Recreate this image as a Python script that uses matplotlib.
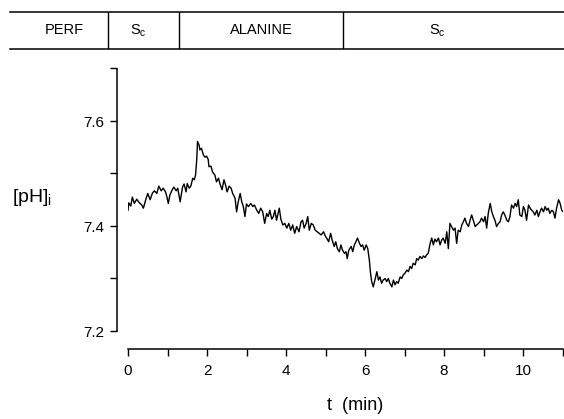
import matplotlib
matplotlib.use("Agg")
import matplotlib.pyplot as plt
from matplotlib.ticker import MultipleLocator

plt.rcParams['font.family'] = ['Liberation Sans', 'DejaVu Sans']
plt.rcParams['mathtext.fontset'] = 'custom'
plt.rcParams['mathtext.rm'] = 'Liberation Sans'
plt.rcParams['mathtext.it'] = 'Liberation Sans'

# time (min) and intracellular pH
t_min = [0.00, 0.02, 0.07, 0.11, 0.16, 0.22, 0.29, 0.35, 0.39, 0.46, 0.50, 0.56,
         0.62, 0.67, 0.73, 0.78, 0.84, 0.89, 0.95, 0.98, 1.02, 1.06, 1.12, 1.16,
         1.22, 1.26, 1.32, 1.38, 1.42, 1.47, 1.50, 1.55, 1.59, 1.64, 1.68, 1.71,
         1.74, 1.76, 1.80, 1.82, 1.86, 1.91, 1.95, 1.99, 2.03, 2.05, 2.10, 2.14,
         2.20, 2.24, 2.29, 2.33, 2.38, 2.43, 2.47, 2.51, 2.56, 2.61, 2.65, 2.71,
         2.75, 2.79, 2.84, 2.88, 2.92, 2.96, 3.00, 3.05, 3.11, 3.16, 3.20, 3.26,
         3.31, 3.36, 3.41, 3.46, 3.51, 3.55, 3.59, 3.64, 3.68, 3.72, 3.76, 3.83,
         3.87, 3.92, 3.97, 4.02, 4.07, 4.12, 4.17, 4.22, 4.27, 4.33, 4.38, 4.42,
         4.46, 4.51, 4.55, 4.59, 4.64, 4.69, 4.74, 4.79, 4.84, 4.89, 4.95, 5.00,
         5.03, 5.08, 5.13, 5.17, 5.22, 5.26, 5.30, 5.35, 5.39, 5.43, 5.48, 5.52,
         5.55, 5.59, 5.65, 5.69, 5.73, 5.77, 5.81, 5.86, 5.90, 5.94, 5.98, 6.03,
         6.07,
         6.11, 6.14, 6.17, 6.21, 6.25, 6.30, 6.34, 6.38, 6.42, 6.46, 6.51, 6.55,
         6.59, 6.63, 6.68, 6.72, 6.76, 6.80, 6.84, 6.89, 6.93, 6.97, 7.01, 7.06,
         7.10, 7.14, 7.18, 7.22, 7.27, 7.31, 7.35, 7.39, 7.44, 7.48, 7.52, 7.56,
         7.60, 7.65, 7.69, 7.73, 7.77, 7.81, 7.86, 7.90, 7.94, 7.98, 8.03, 8.07,
         8.11, 8.15, 8.19, 8.24, 8.28, 8.32, 8.36, 8.41, 8.45, 8.49, 8.53, 8.57,
         8.62, 8.66, 8.70, 8.74, 8.79, 8.83, 8.87, 8.91, 8.95, 9.00, 9.04, 9.08,
         9.12, 9.17, 9.21, 9.25, 9.29, 9.33, 9.38, 9.42, 9.46, 9.50, 9.54, 9.59,
         9.63, 9.67, 9.71, 9.76, 9.80, 9.84, 9.88, 9.92, 9.97, 10.01, 10.05, 10.09,
         10.14, 10.18, 10.22, 10.26, 10.30, 10.35, 10.39, 10.43, 10.47, 10.52,
         10.56, 10.60, 10.64, 10.68, 10.73, 10.77, 10.81, 10.85, 10.90, 10.94,
         10.98, 11.02]
ph_i = [7.430, 7.444, 7.438, 7.455, 7.443, 7.451, 7.444, 7.440, 7.434, 7.453, 7.462, 7.450,
        7.463, 7.467, 7.462, 7.476, 7.467, 7.472, 7.465, 7.457, 7.443, 7.459, 7.469, 7.474,
        7.467, 7.472, 7.446, 7.474, 7.480, 7.465, 7.481, 7.472, 7.476, 7.491, 7.488, 7.497,
        7.526, 7.561, 7.554, 7.545, 7.548, 7.535, 7.531, 7.533, 7.527, 7.513, 7.514, 7.503,
        7.497, 7.484, 7.491, 7.480, 7.469, 7.488, 7.478, 7.465, 7.476, 7.472, 7.462, 7.453,
        7.427, 7.446, 7.462, 7.446, 7.437, 7.418, 7.442, 7.437, 7.443, 7.437, 7.440, 7.430,
        7.424, 7.434, 7.427, 7.405, 7.424, 7.418, 7.430, 7.413, 7.418, 7.430, 7.411, 7.434,
        7.413, 7.402, 7.405, 7.396, 7.405, 7.392, 7.402, 7.386, 7.399, 7.389, 7.408, 7.411,
        7.396, 7.405, 7.418, 7.392, 7.405, 7.402, 7.392, 7.389, 7.386, 7.383, 7.389, 7.380,
        7.377, 7.370, 7.386, 7.373, 7.361, 7.370, 7.357, 7.351, 7.364, 7.354, 7.348, 7.351,
        7.338, 7.354, 7.361, 7.351, 7.364, 7.370, 7.377, 7.367, 7.361, 7.364, 7.354, 7.364,
        7.357,
        7.335, 7.310, 7.294, 7.284, 7.297, 7.313, 7.297, 7.303, 7.291, 7.297, 7.300, 7.294,
        7.300, 7.291, 7.284, 7.297, 7.288, 7.294, 7.291, 7.303, 7.300, 7.307, 7.310, 7.316,
        7.313, 7.323, 7.319, 7.329, 7.326, 7.338, 7.335, 7.342, 7.338, 7.343, 7.340, 7.345,
        7.348, 7.367, 7.377, 7.364, 7.375, 7.370, 7.377, 7.364, 7.373, 7.377, 7.367, 7.389,
        7.357, 7.405, 7.399, 7.392, 7.396, 7.367, 7.392, 7.389, 7.402, 7.408, 7.415, 7.405,
        7.399, 7.411, 7.421, 7.411, 7.399, 7.402, 7.405, 7.408, 7.415, 7.408, 7.418, 7.396,
        7.424, 7.443, 7.427, 7.418, 7.411, 7.399, 7.405, 7.408, 7.421, 7.427, 7.421, 7.411,
        7.408, 7.418, 7.440, 7.434, 7.443, 7.437, 7.450, 7.421, 7.418, 7.437, 7.430, 7.411,
        7.440, 7.434, 7.430, 7.427, 7.421, 7.430, 7.418, 7.427, 7.434, 7.427,
        7.437, 7.430, 7.434, 7.424, 7.430, 7.427, 7.415, 7.434, 7.450, 7.443,
        7.430, 7.427]

# perfusion protocol strip (boundaries in min, on the same time scale)
phase_edges = [-2.99, -0.51, 1.29, 5.44, 11.04]
phase_labels = ['PERF', r'S$_{\mathrm{c}}$', 'ALANINE', r'S$_{\mathrm{c}}$']
phase_label_t = [-1.62, 0.25, 3.37, 7.82]

W, H = 564, 419
fig = plt.figure(figsize=(W / 100, H / 100), dpi=100)

x0_px, px_per_min = 128, 39.5
t_max = 11.0
ax = fig.add_axes([x0_px / W, (H - 331) / H,
                   t_max * px_per_min / W, (331 - 68.5) / H])
ax.plot(t_min, ph_i, color='black', lw=1.0)
ax.set_xlim(0, t_max)
ax.set_ylim(7.2, 7.7)

for s in ['top', 'right']:
    ax.spines[s].set_visible(False)
ax.spines['left'].set_position(('outward', 8))
ax.spines['bottom'].set_position(('outward', 13))
ax.spines['left'].set_linewidth(1.1)
ax.spines['bottom'].set_linewidth(1.1)

ax.xaxis.set_major_locator(MultipleLocator(2))
ax.xaxis.set_minor_locator(MultipleLocator(1))
ax.yaxis.set_major_locator(MultipleLocator(0.2))
ax.yaxis.set_minor_locator(MultipleLocator(0.1))
ax.yaxis.set_major_formatter(plt.FuncFormatter(lambda v, p: f'{v:.1f}'))
ax.tick_params(which='both', direction='out', width=1.0, length=5)
ax.tick_params(axis='both', labelsize=11, pad=4)
ax.tick_params(axis='x', pad=6)

ax.set_xlabel('t  (min)', fontsize=13)
ax.xaxis.set_label_coords((355 - x0_px) / (t_max * px_per_min), -0.25)
fig.text(12 / W, 1 - 197 / H, r'[pH]$_{\mathrm{i}}$', fontsize=14,
         ha='left', va='center')

# protocol strip on top
sx = fig.add_axes([0, 1 - 49 / H, 1, 37 / H])
sx.set_xlim(-x0_px / px_per_min, (W - x0_px) / px_per_min)
sx.set_ylim(0, 1)
sx.axis('off')
sx.plot([phase_edges[0], phase_edges[-1]], [1, 1], color='black', lw=1.1, clip_on=False)
sx.plot([phase_edges[0], phase_edges[-1]], [0, 0], color='black', lw=1.1, clip_on=False)
for e in phase_edges[1:-1]:
    sx.plot([e, e], [0, 1], color='black', lw=1.0)
for lab, tc in zip(phase_labels, phase_label_t):
    sx.text(tc, 0.5, lab, ha='center', va='center', fontsize=10.5)

fig.savefig('out.png', dpi=100)
